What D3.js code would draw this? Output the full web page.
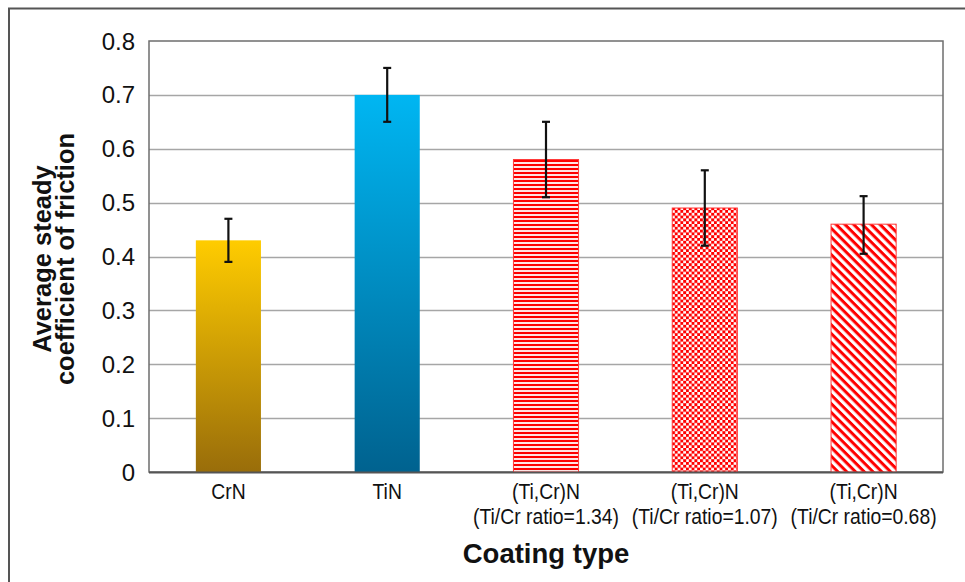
<!DOCTYPE html>
<html>
<head>
<meta charset="utf-8">
<script src="https://cdn.jsdelivr.net/npm/d3@7"></script>
<style>
  body { margin: 0; background: #fff; }
  svg { display: block; }
</style>
</head>
<body>
<svg id="chart" width="965" height="582"></svg>
<script>
const categories = ["CrN", "TiN", "(Ti,Cr)N|(Ti/Cr ratio=1.34)", "(Ti,Cr)N|(Ti/Cr ratio=1.07)", "(Ti,Cr)N|(Ti/Cr ratio=0.68)"];
const values = [0.43, 0.70, 0.58, 0.49, 0.46];
const errLow = [0.39, 0.65, 0.51, 0.42, 0.405];
const errHigh = [0.47, 0.75, 0.65, 0.56, 0.512];
const yTicks = [0, 0.1, 0.2, 0.3, 0.4, 0.5, 0.6, 0.7, 0.8];
const fills = ["url(#gCrN)", "url(#gTiN)", "url(#pHoriz)", "url(#pCheck)", "url(#pDiag)"];

const svg = d3.select("#chart");
const m = { top: 41, right: 22, bottom: 110, left: 149 };
const width = 965, height = 582;

// outer frame
svg.append("path")
  .attr("d", `M9,${height} V8.5 H${width}`)
  .attr("fill", "none")
  .attr("stroke", "#555")
  .attr("stroke-width", 2);

const defs = svg.append("defs");
function grad(id, top, bottom){
  const g = defs.append("linearGradient").attr("id", id)
    .attr("x1", 0).attr("y1", 0).attr("x2", 0).attr("y2", 1);
  g.append("stop").attr("offset", "0%").attr("stop-color", top);
  g.append("stop").attr("offset", "100%").attr("stop-color", bottom);
}
grad("gCrN", "#ffcc00", "#996d0a");
grad("gTiN", "#00b6f2", "#00628f");

const ph = defs.append("pattern").attr("id", "pHoriz").attr("patternUnits", "userSpaceOnUse")
  .attr("width", 4).attr("height", 4);
ph.append("rect").attr("width", 4).attr("height", 4).attr("fill", "#ffe4e4");
ph.append("rect").attr("y", 0).attr("width", 4).attr("height", 2).attr("fill", "#ff0000");

const pc = defs.append("pattern").attr("id", "pCheck").attr("patternUnits", "userSpaceOnUse")
  .attr("width", 5.6).attr("height", 5.6);
pc.append("rect").attr("width", 5.6).attr("height", 5.6).attr("fill", "#fff");
pc.append("rect").attr("width", 3).attr("height", 3).attr("fill", "#ff0000");
pc.append("rect").attr("x", 2.8).attr("y", 2.8).attr("width", 3).attr("height", 3).attr("fill", "#ff0000");

const pd = defs.append("pattern").attr("id", "pDiag").attr("patternUnits", "userSpaceOnUse")
  .attr("width", 6.2).attr("height", 6.2).attr("patternTransform", "rotate(45)");
pd.append("rect").attr("width", 6.2).attr("height", 6.2).attr("fill", "#fff");
pd.append("rect").attr("width", 6.2).attr("height", 3).attr("fill", "#ff0000");

const x = d3.scaleBand().domain(categories).range([m.left, width - m.right]).padding(0);
const y = d3.scaleLinear().domain([0, 0.8]).range([height - m.bottom, m.top]);
const barW = x.bandwidth() * 0.41;

// grid
svg.append("g")
  .selectAll("line")
  .data(yTicks.slice(1, -1))
  .join("line")
  .attr("x1", m.left).attr("x2", width - m.right)
  .attr("y1", d => Math.round(y(d)) + 0.5).attr("y2", d => Math.round(y(d)) + 0.5)
  .attr("stroke", "#a6a6a6").attr("stroke-width", 1.5);

// plot frame
svg.append("rect")
  .attr("x", m.left).attr("y", m.top)
  .attr("width", width - m.right - m.left).attr("height", y(0) - m.top)
  .attr("fill", "none").attr("stroke", "#6e6e6e").attr("stroke-width", 1.5);

// bars
svg.selectAll(".bar")
  .data(categories)
  .join("rect")
  .attr("class", "bar")
  .attr("x", d => x(d) + (x.bandwidth() - barW) / 2)
  .attr("y", (d, i) => y(values[i]))
  .attr("width", barW)
  .attr("height", (d, i) => y(0) - y(values[i]))
  .attr("fill", (d, i) => fills[i])
  .attr("stroke", (d, i) => i >= 2 ? "#ff3838" : "none")
  .attr("stroke-width", 1);

// x axis line
svg.append("line")
  .attr("x1", m.left).attr("x2", width - m.right)
  .attr("y1", y(0) + 0.5).attr("y2", y(0) + 0.5)
  .attr("stroke", "#555").attr("stroke-width", 2);

// error bars
const eb = svg.append("g").attr("stroke", "#111").attr("stroke-width", 2.2);
categories.forEach((c, i) => {
  const cx = x(c) + x.bandwidth() / 2;
  eb.append("line").attr("x1", cx).attr("x2", cx).attr("y1", y(errLow[i])).attr("y2", y(errHigh[i]));
  eb.append("line").attr("x1", cx - 4).attr("x2", cx + 4).attr("y1", y(errLow[i])).attr("y2", y(errLow[i]));
  eb.append("line").attr("x1", cx - 4).attr("x2", cx + 4).attr("y1", y(errHigh[i])).attr("y2", y(errHigh[i]));
});

// y tick labels
svg.append("g")
  .selectAll("text")
  .data(yTicks)
  .join("text")
  .attr("x", 135)
  .attr("y", d => y(d) + 8.5)
  .attr("text-anchor", "end")
  .attr("font-family", "Liberation Sans, Arial, sans-serif")
  .attr("font-size", 24)
  .attr("fill", "#111")
  .text(d => d === 0 ? "0" : d.toFixed(1));

// x labels (slightly condensed)
categories.forEach(c => {
  const lines = c.split("|");
  const cx = x(c) + x.bandwidth() / 2;
  const t = svg.append("text")
    .attr("transform", `translate(${cx},499) scale(0.9,1)`)
    .attr("text-anchor", "middle")
    .attr("font-family", "Liberation Sans, Arial, sans-serif")
    .attr("font-size", 21.5)
    .attr("fill", "#111");
  lines.forEach((l, k) => t.append("tspan").attr("x", 0).attr("dy", k ? 25 : 0).text(l));
});

// axis titles
svg.append("text")
  .attr("x", (m.left + width - m.right) / 2)
  .attr("y", 563)
  .attr("text-anchor", "middle")
  .attr("font-family", "Liberation Sans, Arial, sans-serif")
  .attr("font-weight", "bold")
  .attr("font-size", 27.5)
  .attr("fill", "#111")
  .text("Coating type");

const yt = svg.append("text")
  .attr("transform", "translate(51,259) rotate(-90)")
  .attr("text-anchor", "middle")
  .attr("font-family", "Liberation Sans, Arial, sans-serif")
  .attr("font-weight", "bold")
  .attr("font-size", 25.5)
  .attr("fill", "#111");
yt.append("tspan").attr("x", 0).attr("dy", 0).text("Average steady");
yt.append("tspan").attr("x", 0).attr("dy", 23).text("coefficient of friction");
</script>
</body>
</html>
